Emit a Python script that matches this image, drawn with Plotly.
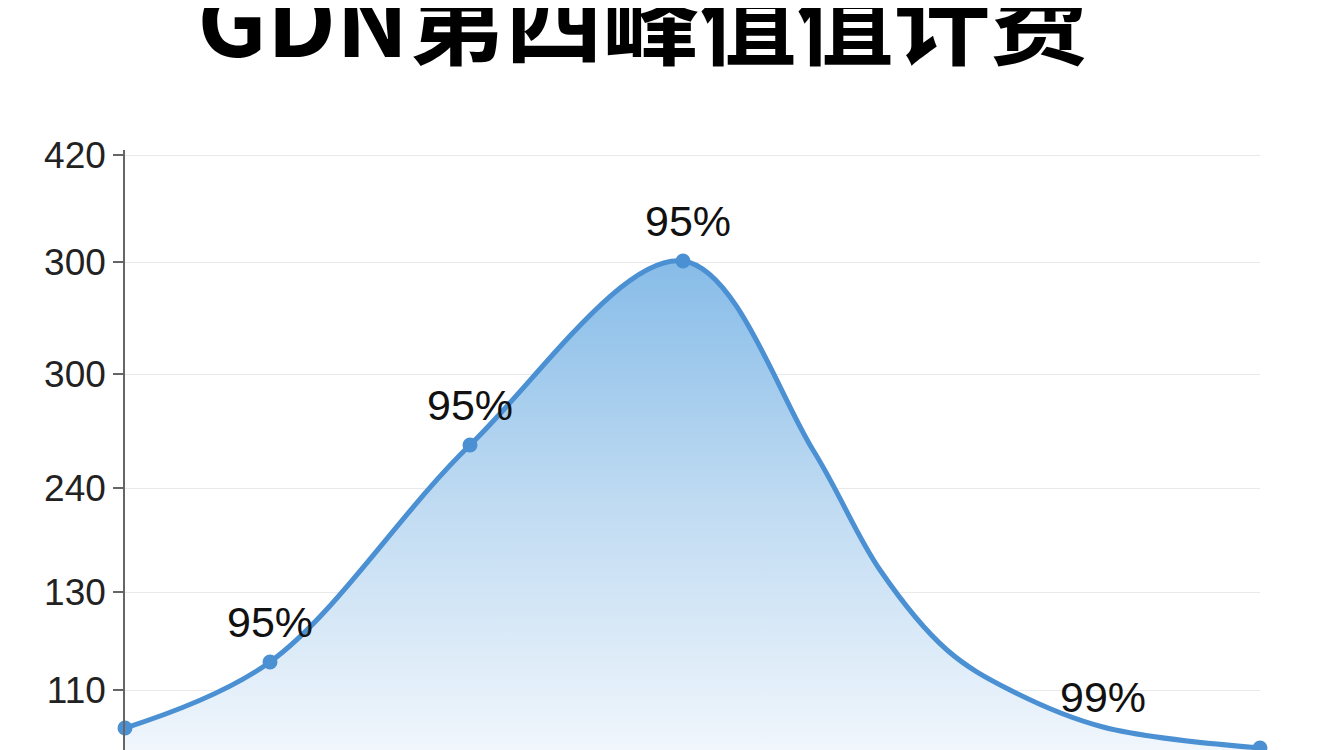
import plotly.graph_objects as go

title_text = "GDN第四峰值值计费"

# y axis tick labels (as printed on the chart) and their positions on the axis
y_tick_labels = ["110", "130", "240", "300", "300", "420"]
y_tick_vals = [0.60, 1.58, 2.62, 3.76, 4.88, 5.95]

# curve samples (axis units)
curve_x = [0.00, 1.45, 3.45, 5.58, 6.88, 7.55, 8.22, 8.85, 9.78, 11.35]
curve_y = [0.22, 0.88, 3.05, 4.89, 3.00, 1.80, 1.00, 0.60, 0.23, 0.02]
point_labels = ["", "95%", "95%", "95%", "", "", "", "", "99%", ""]
has_marker = [True, True, True, True, False, False, False, False, False, True]

line_color = "#4a90d2"
marker_sizes = [15 if m else 0 for m in has_marker]

fig = go.Figure()
fig.add_trace(go.Scatter(
    x=curve_x, y=curve_y,
    mode="lines+markers",
    line=dict(color=line_color, width=5, shape="spline", smoothing=1.0),
    marker=dict(size=marker_sizes, color=line_color, opacity=1, line=dict(width=0)),
    fill="tozeroy",
    fillgradient=dict(
        type="vertical",
        colorscale=[[0, "rgba(240,246,252,1)"], [0.5, "rgba(192,219,242,1)"], [1, "rgba(135,188,232,1)"]],
    ),
    cliponaxis=False,
    hoverinfo="skip",
    showlegend=False,
))

annotations = []
for xv, yv, lab, m in zip(curve_x, curve_y, point_labels, has_marker):
    if lab:
        annotations.append(dict(
            x=xv, y=yv, xref="x", yref="y", text=lab, showarrow=False,
            yanchor="middle", xanchor="center",
            yshift=40 if m else 30, xshift=5 if yv == max(curve_y) else 0,
            font=dict(family="Liberation Sans, Arial, sans-serif", size=43, color="#111111"),
        ))

fig.update_layout(
    width=1344, height=750,
    margin=dict(l=117, r=92, t=142, b=8),
    paper_bgcolor="white", plot_bgcolor="white",
    annotations=annotations,
    title=dict(
        text=title_text,
        x=0.472, xanchor="center",
        y=0.980, yanchor="middle", yref="container",
        font=dict(family="Noto Sans CJK SC, sans-serif", size=97, color="#000000", weight="bold"),
    ),
    xaxis=dict(range=[0, 11.35], visible=False, showgrid=False, zeroline=False),
    yaxis=dict(
        range=[0, 6.0],
        tickmode="array", tickvals=y_tick_vals, ticktext=y_tick_labels,
        tickfont=dict(family="Liberation Sans, Arial, sans-serif", size=37, color="#222222"),
        showgrid=True, gridcolor="#e9e9e9", gridwidth=1,
        showline=True, linecolor="#666666", linewidth=1.5,
        ticks="outside", ticklen=10, tickcolor="#666666", tickwidth=1.5,
        zeroline=False,
    ),
)

fig.write_html("out.html")
